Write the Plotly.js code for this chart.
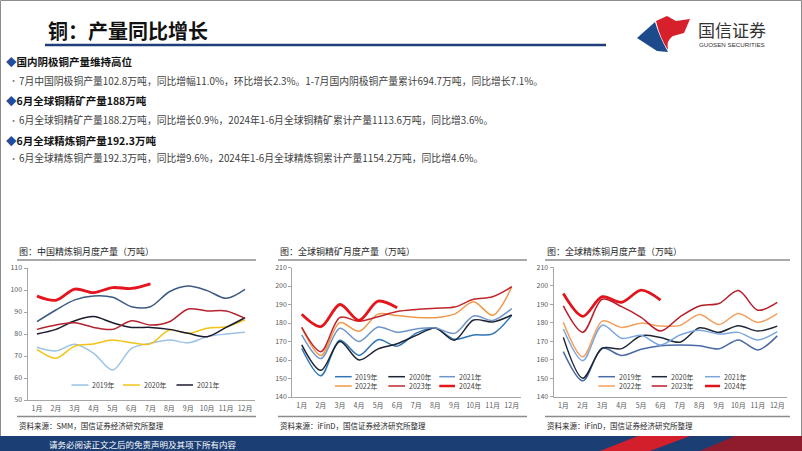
<!DOCTYPE html>
<html><head><meta charset="utf-8">
<script src="https://cdn.plot.ly/plotly-3.0.1.min.js"></script>
<style>html,body{margin:0;padding:0;background:#fff;overflow:hidden}#chart{width:802px;height:451px}</style>
</head><body><div id="chart"></div>
<script>
// ---------- data ----------
const months = ['1月','2月','3月','4月','5月','6月','7月','8月','9月','10月','11月','12月'];
const years = ['2019年','2020年','2021年','2022年','2023年','2024年'];

// China refined copper monthly output (10k t)
const cn2019 = [74.0, 72.3, 75.3, 71.2, 63.6, 73.5, 75.8, 77.3, 76.0, 78.8, 80.0, 80.8];
const cn2020 = [73.0, 69.0, 74.5, 75.5, 77.3, 76.0, 75.5, 81.8, 80.3, 82.6, 83.3, 86.4];
const cn2021 = [80.0, 82.1, 86.0, 87.9, 85.1, 83.0, 83.0, 82.1, 80.3, 78.8, 83.0, 87.4];
const cn2022 = [85.6, 90.9, 95.5, 97.3, 96.7, 92.4, 92.4, 99.2, 101.8, 99.7, 96.2, 100.3];
const cn2023 = [82.1, 84.1, 85.1, 83.0, 82.1, 86.0, 84.1, 85.6, 91.4, 90.5, 90.5, 87.1];
const cn2024 = [97.2, 95.3, 100.4, 98.8, 101.1, 100.7, 102.8];

// Global copper concentrate monthly output (10k t)
const ore2019 = [166.2, 151.5, 170.7, 162.5, 171.0, 167.5, 174.5, 177.2, 171.2, 173.5, 174.1, 184.2];
const ore2020 = [168.2, 154.4, 170.0, 160.0, 166.0, 168.8, 173.3, 177.3, 170.7, 181.6, 180.6, 184.3];
const ore2021 = [173.6, 160.8, 177.2, 170.0, 177.8, 175.0, 176.8, 177.3, 174.4, 183.8, 181.4, 187.8];
const ore2022 = [177.6, 162.5, 180.2, 175.5, 184.8, 184.0, 183.0, 182.9, 184.8, 191.5, 184.2, 199.6];
const ore2023 = [177.6, 164.5, 183.0, 180.9, 183.4, 186.2, 187.3, 188.0, 188.6, 192.8, 194.2, 199.6];
const ore2024 = [184.7, 178.0, 190.0, 181.4, 191.8, 188.2];

// Global refined copper monthly output (10k t)
const ref2019 = [164.4, 148.6, 166.2, 162.3, 165.7, 167.6, 168.0, 167.6, 165.9, 170.7, 165.3, 172.9];
const ref2020 = [172.1, 150.0, 166.2, 166.0, 173.0, 172.0, 169.5, 177.3, 174.8, 178.4, 175.5, 178.2];
const ref2021 = [176.6, 159.5, 178.7, 171.6, 173.2, 168.0, 173.4, 176.0, 173.9, 174.8, 170.7, 175.2];
const ref2022 = [180.2, 161.6, 180.9, 177.5, 179.8, 178.2, 178.6, 184.4, 179.1, 185.0, 180.2, 185.0];
const ref2023 = [189.1, 174.9, 192.7, 188.7, 182.9, 175.5, 183.2, 189.1, 190.4, 197.4, 186.8, 191.0];
const ref2024 = [195.8, 183.5, 194.1, 191.1, 197.6, 192.3];

const yTicks1 = [50, 60, 70, 80, 90, 100, 110];
const yTicks23 = [140, 150, 160, 170, 180, 190, 200, 210];

const chartTitles = ['图：中国精炼铜月度产量（万吨）','图：全球铜精矿月度产量（万吨）','图：全球精炼铜月度产量（万吨）'];
const sources = ['资料来源：SMM，国信证券经济研究所整理','资料来源：iFinD，国信证券经济研究所整理','资料来源：iFinD，国信证券经济研究所整理'];

// ---------- layout helpers ----------
const W = 802, H = 451;
const px = x => x / W, py = y => 1 - y / H;
const FONT = '"Noto Sans CJK SC", "Noto Sans", sans-serif';

const charts = [
  { series:[cn2019,cn2020,cn2021,cn2022,cn2023,cn2024],
    colors:['#9dc3e6','#f2c314','#1b1b2f','#3c5a82','#b4232f','#e5141e'],
    widths:[1.5,1.5,1.5,1.5,1.5,2.8],
    x:[27.5,254.5], y:[268,400], range:[50,110], ticks:yTicks1,
    legendCount:3, legendRows:[385], legendX:[[71.5,88.5],[123,140],[176.5,193]],
    titleX:17, lineX:[17,256] },
  { series:[ore2019,ore2020,ore2021,ore2022,ore2023,ore2024],
    colors:['#2e75b6','#1c2333','#6e94c8','#f0984a','#c0272d','#e3161b'],
    widths:[1.5,1.5,1.5,1.5,1.5,2.8],
    x:[292.2,521.3], y:[267.5,397], range:[140,210], ticks:yTicks23,
    legendCount:6, legendRows:[376.7,386], legendX:[[335,351.7],[388.3,405],[439.3,455]],
    titleX:278, lineX:[278,527] },
  { series:[ref2019,ref2020,ref2021,ref2022,ref2023,ref2024],
    colors:['#4a6aa6','#202838','#7aa6e0','#f2a060','#b81d2a','#e0141c'],
    widths:[1.5,1.5,1.5,1.5,1.5,2.8],
    x:[553.6,787], y:[267.3,396.7], range:[140,210], ticks:yTicks23,
    legendCount:6, legendRows:[376.7,386], legendX:[[598.3,615],[651.7,667],[705,720]],
    titleX:545, lineX:[545,790] }
];

const traces = [];
const layout = {
  width: W, height: H, margin:{l:0,r:0,t:0,b:0},
  paper_bgcolor:'#ffffff', plot_bgcolor:'rgba(0,0,0,0)',
  showlegend:false, font:{family:FONT, color:'#333'},
  shapes:[], annotations:[]
};

charts.forEach((c, ci) => {
  const sfx = ci === 0 ? '' : String(ci + 1);
  layout['xaxis' + sfx] = {
    domain:[px(c.x[0]), px(c.x[1])], anchor:'y' + sfx, type:'category',
    range:[-0.5, 11.5], categoryorder:'array', categoryarray:months,
    showline:true, linecolor:'#a6a6a6', linewidth:1, ticks:'',
    showgrid:false, zeroline:false, tickfont:{size:7, color:'#595959', family:FONT},
    ticklabelstandoff:2, fixedrange:true
  };
  layout['yaxis' + sfx] = {
    domain:[py(c.y[1]), py(c.y[0])], anchor:'x' + sfx, range:c.range,
    tickvals:c.ticks, showline:true, linecolor:'#a6a6a6', linewidth:1,
    ticks:'outside', ticklen:3, tickcolor:'#a6a6a6', showgrid:false, zeroline:false,
    tickfont:{size:7, color:'#595959', family:FONT}, fixedrange:true
  };
  c.series.forEach((vals, si) => {
    traces.push({
      type:'scatter', mode:'lines', name:years[si],
      x:months.slice(0, vals.length), y:vals,
      xaxis:'x' + sfx, yaxis:'y' + sfx,
      line:{color:c.colors[si], width:c.widths[si], shape:'spline', smoothing:0.9},
      hoverinfo:'skip'
    });
  });
  // legend (manual)
  for (let li = 0; li < c.legendCount; li++) {
    const row = Math.floor(li / 3), col = li % 3;
    const yy = c.legendRows[row];
    const [lx0, lx1] = c.legendX[col];
    layout.shapes.push({type:'line', xref:'paper', yref:'paper',
      x0:px(lx0), x1:px(lx1), y0:py(yy), y1:py(yy),
      line:{color:c.colors[li], width:c.widths[li] > 2 ? 2.5 : 1.5}});
    layout.annotations.push({xref:'paper', yref:'paper', x:px(lx1 + 1.5), y:py(yy),
      xanchor:'left', yanchor:'middle', showarrow:false, text:years[li],
      font:{size:7, color:'#404040', family:FONT}});
  }
  // title, separators, source
  layout.annotations.push({xref:'paper', yref:'paper', x:px(c.titleX), y:py(251),
    xanchor:'left', yanchor:'middle', showarrow:false, text:chartTitles[ci],
    font:{size:9, color:'#262626', family:FONT}});
  [260, 416.5].forEach(yy => layout.shapes.push({type:'line', xref:'paper', yref:'paper',
    x0:px(c.lineX[0]), x1:px(c.lineX[1]), y0:py(yy), y1:py(yy),
    line:{color:'#8c8c8c', width:1.5}}));
  layout.annotations.push({xref:'paper', yref:'paper', x:px(c.titleX), y:py(425),
    xanchor:'left', yanchor:'middle', showarrow:false, text:sources[ci],
    font:{size:7.5, color:'#262626', family:FONT}});
});

// ---------- slide chrome ----------
// outer border
layout.shapes.push({type:'rect', xref:'paper', yref:'paper', x0:px(0.5), x1:px(801.5), y0:py(450.5), y1:py(0.5),
  line:{color:'#8c8c8c', width:1}, layer:'below'});
// title underline
layout.shapes.push({type:'line', xref:'paper', yref:'paper', x0:px(45), x1:px(606), y0:py(45), y1:py(45),
  line:{color:'#1f3d7a', width:2.5}});
// logo
layout.shapes.push({type:'path', xref:'paper', yref:'paper', fillcolor:'#1d4a8a', line:{width:0},
  path:`M ${px(637)},${py(38)} L ${px(655)},${py(22)} Q ${px(659)},${py(36)} ${px(668)},${py(52)} L ${px(657)},${py(51)} Z`});
layout.shapes.push({type:'path', xref:'paper', yref:'paper', fillcolor:'#d6202c', line:{width:0},
  path:`M ${px(656)},${py(21)} L ${px(667)},${py(16)} L ${px(676)},${py(21)} L ${px(690)},${py(19)} L ${px(684)},${py(33)} L ${px(673)},${py(36)} Q ${px(666)},${py(40)} ${px(668)},${py(50)} Q ${px(660)},${py(38)} ${px(656)},${py(21)} Z`});
layout.annotations.push({xref:'paper', yref:'paper', x:px(696), y:py(29), xanchor:'left', yanchor:'middle',
  showarrow:false, text:'国信证券', font:{size:17, color:'#333333', family:FONT}});
layout.annotations.push({xref:'paper', yref:'paper', x:px(697), y:py(44.5), xanchor:'left', yanchor:'middle',
  showarrow:false, text:'GUOSEN SECURITIES', font:{size:6.2, color:'#333333', family:'"Liberation Sans", Arial, sans-serif'}});
// page title
layout.annotations.push({xref:'paper', yref:'paper', x:px(46), y:py(31), xanchor:'left', yanchor:'middle',
  showarrow:false, text:'<b>铜：产量同比增长</b>', font:{size:20, color:'#111111', family:FONT}});

// bullet block
const heads = ['国内阴极铜产量维持高位','6月全球铜精矿产量188万吨','6月全球精炼铜产量192.3万吨'];
const bodies = ['7月中国阴极铜产量102.8万吨，同比增幅11.0%，环比增长2.3%。1-7月国内阴极铜产量累计694.7万吨，同比增长7.1%。',
  '6月全球铜精矿产量188.2万吨，同比增长0.9%，2024年1-6月全球铜精矿累计产量1113.6万吨，同比增3.6%。',
  '6月全球精炼铜产量192.3万吨，同比增9.6%，2024年1-6月全球精炼铜累计产量1154.2万吨，同比增4.6%。'];
const headY = [61, 101, 140], bodyY = [81, 120, 158];
heads.forEach((h, i) => {
  layout.annotations.push({xref:'paper', yref:'paper', x:px(4), y:py(headY[i]), xanchor:'left', yanchor:'middle',
    showarrow:false, text:'<span style="color:#1f4e9c">◆</span><b>' + h + '</b>', font:{size:10.5, color:'#111111', family:FONT}});
  layout.annotations.push({xref:'paper', yref:'paper', x:px(7), y:py(bodyY[i]), xanchor:'left', yanchor:'middle',
    showarrow:false, text:'<span style="color:#7f7f7f">•</span>', font:{size:9, family:FONT}});
  layout.annotations.push({xref:'paper', yref:'paper', x:px(17), y:py(bodyY[i]), xanchor:'left', yanchor:'middle',
    showarrow:false, text:bodies[i], font:{size:9.8, color:'#404040', family:FONT}});
});

// footer band
layout.shapes.push({type:'rect', xref:'paper', yref:'paper', x0:0, x1:1, y0:0, y1:py(436),
  fillcolor:'#1b3e74', line:{width:0}});
layout.shapes.push({type:'path', xref:'paper', yref:'paper', fillcolor:'#d21f2b', line:{width:0},
  path:`M ${px(600)},${py(451)} L ${px(638)},${py(436)} L ${px(690)},${py(436)} L ${px(650)},${py(451)} Z`});
layout.shapes.push({type:'path', xref:'paper', yref:'paper', fillcolor:'#8e1c2c', line:{width:0},
  path:`M ${px(700)},${py(451)} L ${px(735)},${py(436)} L ${px(802)},${py(436)} L ${px(802)},${py(451)} Z`});
layout.annotations.push({xref:'paper', yref:'paper', x:px(47), y:py(443.5), xanchor:'left', yanchor:'middle',
  showarrow:false, text:'请务必阅读正文之后的免责声明及其项下所有内容', font:{size:8.5, color:'#ffffff', family:FONT}});

Plotly.newPlot('chart', traces, layout, {displayModeBar:false, staticPlot:true});
</script></body></html>
